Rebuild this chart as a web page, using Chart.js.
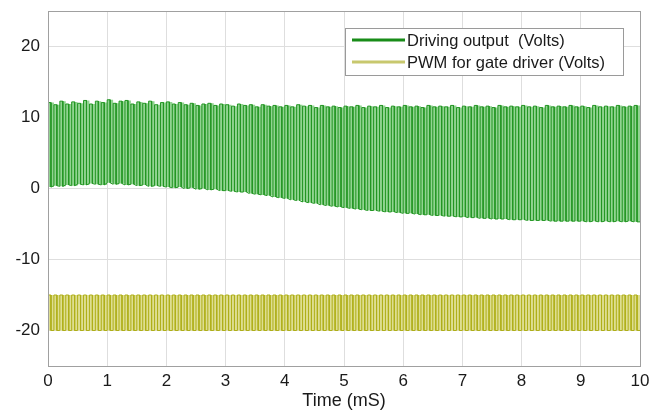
<!DOCTYPE html>
<html><head><meta charset="utf-8">
<script src="https://cdn.jsdelivr.net/npm/chart.js@4"></script>
<style>html,body{margin:0;padding:0;background:#fff}#wrap{width:655px;height:412px}</style>
</head><body><div id="wrap"><canvas id="c" width="655" height="412"></canvas></div>
<script>
const seriesNames = ['Driving output  (Volts)', 'PWM for gate driver (Volts)'];
const xTicks = [0,1,2,3,4,5,6,7,8,9,10];
const yTicks = [-20,-10,0,10,20];
const periodMs = 0.1;
const duty = 0.5;
// per-cycle high / low levels of the driving output (Volts)
const driveHigh = [
 12.1,11.8,12.3,11.9,12.2,12.0,12.4,11.9,12.3,12.1,
 12.5,12.0,12.3,12.4,11.9,12.2,12.0,12.3,11.8,12.1,
 12.2,11.9,12.1,11.8,12.0,11.7,11.9,12.0,11.7,11.9,
 11.8,11.6,11.9,11.7,11.8,11.5,11.8,11.6,11.7,11.5,
 11.7,11.5,11.8,11.6,11.7,11.4,11.7,11.5,11.6,11.4,
 11.6,11.5,11.7,11.4,11.6,11.5,11.7,11.4,11.6,11.5,
 11.7,11.5,11.6,11.4,11.7,11.5,11.6,11.5,11.7,11.4,
 11.6,11.5,11.7,11.5,11.6,11.4,11.7,11.5,11.6,11.5,
 11.7,11.5,11.6,11.4,11.7,11.5,11.6,11.5,11.7,11.5,
 11.6,11.4,11.7,11.5,11.6,11.5,11.7,11.5,11.6,11.7];
const driveLow = [
 0.2,0.4,0.3,0.5,0.4,0.6,0.5,0.7,0.6,0.5,
 0.8,0.6,0.7,0.5,0.6,0.4,0.5,0.3,0.4,0.3,
 0.2,0.1,0.2,0.0,0.1,-0.1,0.0,-0.2,-0.1,-0.3,
 -0.3,-0.4,-0.5,-0.5,-0.7,-0.8,-0.9,-1.0,-1.2,-1.3,
 -1.4,-1.6,-1.7,-1.9,-2.0,-2.1,-2.3,-2.4,-2.5,-2.6,
 -2.7,-2.8,-2.9,-3.0,-3.1,-3.1,-3.2,-3.3,-3.3,-3.4,
 -3.5,-3.5,-3.6,-3.7,-3.7,-3.8,-3.8,-3.9,-3.9,-4.0,
 -4.0,-4.1,-4.1,-4.2,-4.2,-4.3,-4.3,-4.3,-4.4,-4.4,
 -4.4,-4.5,-4.5,-4.5,-4.5,-4.6,-4.6,-4.6,-4.6,-4.6,
 -4.6,-4.7,-4.6,-4.7,-4.6,-4.7,-4.6,-4.7,-4.6,-4.7];
// PWM levels (Volts)
const pwmHigh = -15.0;
const pwmLow = -20.0;

const pwmHighs = driveHigh.map(() => pwmHigh);
const pwmLows = driveLow.map(() => pwmLow);

function squareWave(highs, lows) {
  const pts = [];
  for (let k = 0; k < highs.length; k++) {
    const t0 = k * periodMs, t1 = t0 + duty * periodMs;
    pts.push({x:t0,y:lows[k]},{x:t0,y:highs[k]},{x:t1,y:highs[k]},{x:t1,y:lows[k]});
  }
  pts.push({x:highs.length*periodMs, y:lows[lows.length-1]});
  return pts;
}
function envelope(vals) {
  const pts = [];
  for (let k = 0; k < vals.length; k++) {
    pts.push({x:k*periodMs, y:vals[k]}, {x:(k+1)*periodMs, y:vals[k]});
  }
  return pts;
}

const driveColor = 'rgb(35,150,35)';
const driveFill = 'rgb(145,212,145)';
const pwmColor = 'rgb(175,175,25)';
const pwmFill = 'rgb(222,222,145)';

const boxPlugin = {
  id: 'box',
  afterDraw(chart) {
    const {ctx, chartArea: a} = chart;
    ctx.save();
    ctx.strokeStyle = '#a0a0a0';
    ctx.lineWidth = 1;
    ctx.strokeRect(a.left + 0.5, a.top + 0.5, a.right - a.left, a.bottom - a.top);
    // legend
    const lx = 345.5, ly = 28.5, lw = 278, lh = 47;
    ctx.fillStyle = '#fff';
    ctx.fillRect(lx, ly, lw, lh);
    ctx.strokeStyle = '#9a9a9a';
    ctx.strokeRect(lx, ly, lw, lh);
    const items = [['rgb(25,140,25)', seriesNames[0], 40], ['rgb(200,200,110)', seriesNames[1], 62]];
    ctx.font = '16.5px "Liberation Sans", Arial, sans-serif';
    ctx.textBaseline = 'middle';
    for (const [col, txt, y] of items) {
      ctx.strokeStyle = col; ctx.lineWidth = 3;
      ctx.beginPath(); ctx.moveTo(352, y); ctx.lineTo(405, y); ctx.stroke();
      ctx.fillStyle = '#1a1a1a';
      ctx.fillText(txt, 407, y + 1);
    }
    ctx.restore();
  }
};

const hidden = {borderColor: 'rgba(0,0,0,0)', borderWidth: 0, pointRadius: 0, tension: 0, order: 5};

new Chart(document.getElementById('c'), {
  type: 'line',
  data: {
    datasets: [
      Object.assign({label: 'driveHighEnv', data: envelope(driveHigh), fill: '+1', backgroundColor: driveFill}, hidden),
      Object.assign({label: 'driveLowEnv', data: envelope(driveLow), fill: false}, hidden),
      Object.assign({label: 'pwmHighEnv', data: envelope(pwmHighs), fill: '+1', backgroundColor: pwmFill}, hidden),
      Object.assign({label: 'pwmLowEnv', data: envelope(pwmLows), fill: false}, hidden),
      {label: seriesNames[0], data: squareWave(driveHigh, driveLow), borderColor: driveColor, borderWidth: 1, pointRadius: 0, fill: false, tension: 0, order: 0},
      {label: seriesNames[1], data: squareWave(pwmHighs, pwmLows), borderColor: pwmColor, borderWidth: 1, pointRadius: 0, fill: false, tension: 0, order: 0}
    ]
  },
  options: {
    responsive: false, animation: false, parsing: false, normalized: true,
    layout: {padding: {left: 0, right: 15, top: 11, bottom: 0}},
    plugins: {legend: {display: false}, tooltip: {enabled: false}},
    scales: {
      x: {
        type: 'linear', min: 0, max: 10,
        afterBuildTicks(s) { s.ticks = xTicks.map(v => ({value: v})); },
        afterFit(s) { s.height = 46; s.paddingLeft = 0; s.paddingRight = 0; },
        grid: {color: '#dedede', drawTicks: false},
        border: {color: '#a0a0a0'},
        ticks: {color: '#1a1a1a', font: {family: '"Liberation Sans", Arial, sans-serif', size: 17}, padding: 5, maxRotation: 0},
        title: {display: true, text: 'Time (mS)', color: '#1a1a1a', font: {family: '"Liberation Sans", Arial, sans-serif', size: 18}, padding: {top: 0, bottom: 0}}
      },
      y: {
        type: 'linear', min: -25, max: 25,
        afterBuildTicks(s) { s.ticks = yTicks.map(v => ({value: v})); },
        afterFit(s) { s.width = 48; s.paddingTop = 0; s.paddingBottom = 0; },
        grid: {color: '#dedede', drawTicks: false},
        border: {color: '#a0a0a0'},
        ticks: {color: '#1a1a1a', font: {family: '"Liberation Sans", Arial, sans-serif', size: 17}, padding: 8}
      }
    }
  },
  plugins: [boxPlugin]
});
</script></body></html>
